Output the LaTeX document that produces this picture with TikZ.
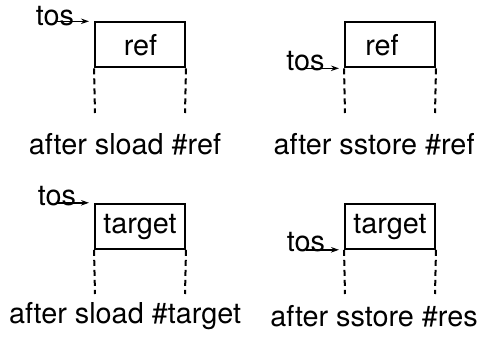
\documentclass[tikz,border=0pt]{standalone}
\usepackage{fontspec}
\setmainfont{TeX Gyre Heros}
\usetikzlibrary{arrows.meta}
\tikzset{
  stackbox/.style={draw, line width=2pt, minimum width=90pt, minimum height=45pt, inner sep=0pt},
  txt/.style={inner sep=0pt, anchor=base, font=\fontsize{28.8}{34}\selectfont},
  dashline/.style={line width=2pt, dash pattern=on 6pt off 4pt},
  tosarrow/.style={line width=1.4pt, -{Stealth[length=8pt,width=5.5pt]}}
}
\begin{document}
\begin{tikzpicture}[x=1pt,y=-1pt]
\useasboundingbox (0,0) rectangle (479,343);
% panel 1
\node[stackbox] (b1) at (140,44.8) {};
\node[txt] (r1) at (140.5,55) {ref};
\node[txt] (t1) at (55,25) {tos};
\coordinate (d1a) at (95,113);
\coordinate (d1b) at (185,113);
\draw[dashline] (b1.south west) -- (d1a);
\draw[dashline] (b1.south east) -- (d1b);
\draw[tosarrow] (t1.center |- b1.north west) -- ([xshift=-5pt]b1.north west);
\node[txt] (l1) at (125,154) {after sload \#ref};
% panel 2
\node[stackbox] (b2) at (390,44.8) {};
\node[txt] (r2) at (382,55) {ref};
\node[txt] (t2) at (305.5,70) {tos};
\coordinate (d2a) at (345,113);
\coordinate (d2b) at (435,113);
\draw[dashline] (b2.south west) -- (d2a);
\draw[dashline] (b2.south east) -- (d2b);
\draw[tosarrow] (t2.center |- b2.south west) -- ([xshift=-5pt]b2.south west);
\node[txt] (l2) at (374,154) {after sstore \#ref};
% panel 3
\node[stackbox] (b3) at (140,226.3) {};
\node[txt] (r3) at (140,233) {target};
\node[txt] (t3) at (57,205) {tos};
\coordinate (d3a) at (95,294);
\coordinate (d3b) at (185,294);
\draw[dashline] (b3.south west) -- (d3a);
\draw[dashline] (b3.south east) -- (d3b);
\draw[tosarrow] (t3.center |- b3.north west) -- ([xshift=-5pt]b3.north west);
\node[txt] (l3) at (125,323) {after sload \#target};
% panel 4
\node[stackbox] (b4) at (390,226.3) {};
\node[txt] (r4) at (390,233) {target};
\node[txt] (t4) at (306,251) {tos};
\coordinate (d4a) at (345,294);
\coordinate (d4b) at (435,294);
\draw[dashline] (b4.south west) -- (d4a);
\draw[dashline] (b4.south east) -- (d4b);
\draw[tosarrow] (t4.center |- b4.south west) -- ([xshift=-5pt]b4.south west);
\node[txt] (l4) at (374,326) {after sstore \#res};
\end{tikzpicture}
\end{document}
